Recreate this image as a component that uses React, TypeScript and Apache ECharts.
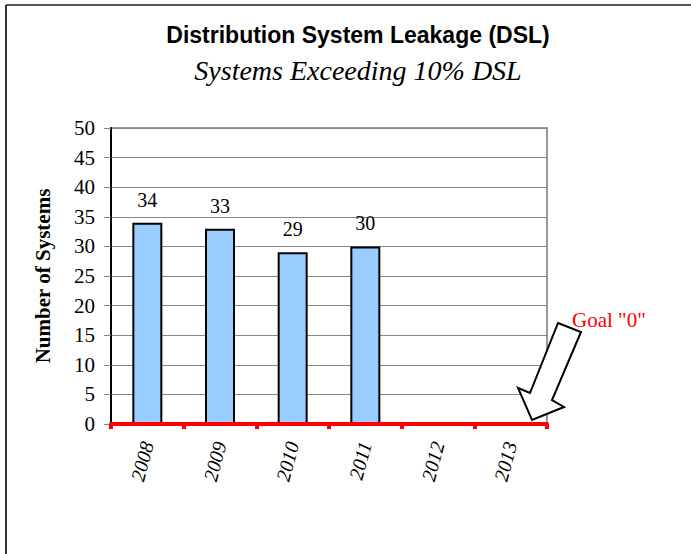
import React, { useEffect, useRef } from "react";
import * as echarts from "echarts";

const categories = ["2008", "2009", "2010", "2011", "2012", "2013"];
const systemsExceeding = [34, 33, 29, 30, null, null];
const titleText = "Distribution System Leakage (DSL)";
const subtitleText = "Systems Exceeding 10% DSL";
const yAxisName = "Number of Systems";
const goalText = 'Goal "0"';

export default function App() {
  const ref = useRef<HTMLDivElement>(null);
  useEffect(() => {
    if (!ref.current) return;
    const chart = echarts.init(ref.current, undefined, { renderer: "svg" });
    const serif = "'Liberation Serif', 'DejaVu Serif', serif";
    chart.setOption({
      animation: false,
      backgroundColor: "#ffffff",
      grid: {
        left: 111,
        right: 144,
        top: 128,
        bottom: 130,
        show: true,
        borderColor: "#999999",
        borderWidth: 2,
      },
      xAxis: {
        type: "category",
        data: categories,
        boundaryGap: true,
        axisLine: { show: true, lineStyle: { color: "#ff0000", width: 4 } },
        axisTick: {
          show: true,
          interval: 0,
          length: 5,
          lineStyle: { color: "#ff0000", width: 4 },
        },
        axisLabel: {
          interval: 0,
          rotate: 75,
          margin: 18,
          fontFamily: serif,
          fontStyle: "italic",
          fontSize: 20,
          color: "#000000",
        },
        splitLine: { show: false },
        z: 5,
      },
      yAxis: {
        type: "value",
        min: 0,
        max: 50,
        interval: 5,
        name: yAxisName,
        nameLocation: "middle",
        nameGap: 58,
        nameTextStyle: {
          fontFamily: serif,
          fontWeight: "bold",
          fontSize: 21,
          color: "#000000",
        },
        axisLine: { show: true, lineStyle: { color: "#000000", width: 2 } },
        axisTick: { show: true, length: 7, lineStyle: { color: "#888888", width: 1 } },
        axisLabel: {
          margin: 16,
          fontFamily: serif,
          fontSize: 21,
          color: "#000000",
        },
        splitLine: { show: true, lineStyle: { color: "#888888", width: 1 } },
      },
      series: [
        {
          type: "bar",
          data: systemsExceeding,
          barWidth: 30,
          itemStyle: { color: "#99ccff", borderColor: "#000000", borderWidth: 2 },
          label: {
            show: true,
            position: "top",
            distance: 13,
            fontFamily: serif,
            fontSize: 20,
            color: "#000000",
          },
        },
      ],
      graphic: [
        { type: "line", shape: { x1: 6, y1: 5, x2: 691, y2: 5 }, style: { stroke: "#555555", lineWidth: 2 } },
        { type: "line", shape: { x1: 6, y1: 5, x2: 6, y2: 554 }, style: { stroke: "#333333", lineWidth: 2 } },
        {
          type: "text",
          x: 358,
          y: 35,
          style: {
            text: titleText,
            fontFamily: "'Liberation Sans', Arial, sans-serif",
            fontWeight: "bold",
            fontSize: 23,
            fill: "#000000",
            align: "center",
            verticalAlign: "middle",
          },
        },
        {
          type: "text",
          x: 358,
          y: 70,
          style: {
            text: subtitleText,
            fontFamily: serif,
            fontStyle: "italic",
            fontSize: 28,
            fill: "#000000",
            align: "center",
            verticalAlign: "middle",
          },
        },
        {
          type: "polygon",
          shape: {
            points: [
              [558, 323],
              [581, 332],
              [552, 400],
              [564, 407],
              [532, 420],
              [518, 388],
              [530, 393],
            ],
          },
          style: { fill: "#ffffff", stroke: "#000000", lineWidth: 2 },
          z: 10,
        },
        {
          type: "text",
          x: 572,
          y: 320,
          style: {
            text: goalText,
            fontFamily: serif,
            fontSize: 21,
            fill: "#ff0000",
            align: "left",
            verticalAlign: "middle",
          },
          z: 10,
        },
      ],
    });
    return () => chart.dispose();
  }, []);
  return (
    <div
      ref={ref}
      style={{ position: "fixed", left: 0, top: 0, width: 691, height: 554, background: "#fff" }}
    />
  );
}
